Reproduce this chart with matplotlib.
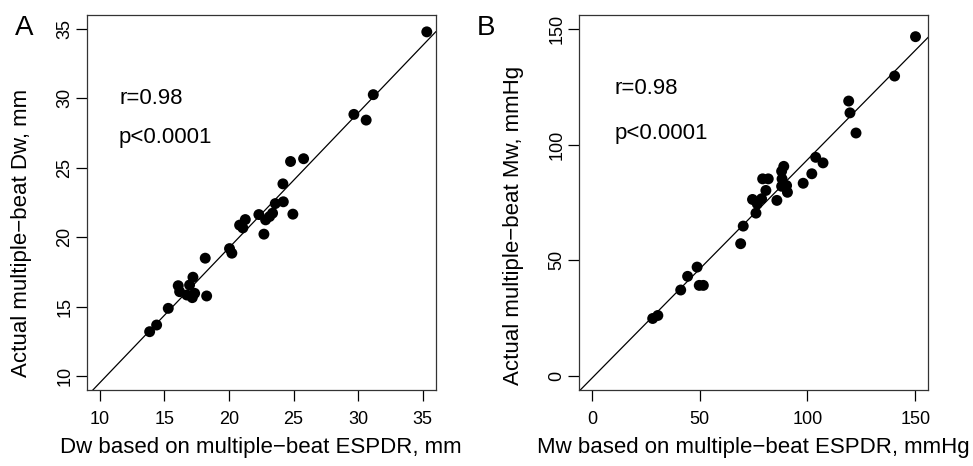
import matplotlib
matplotlib.use("Agg")
import matplotlib.pyplot as plt

plt.rcParams['font.family'] = ['Liberation Sans', 'DejaVu Sans']

# Panel A: Dw (mm)
dw_est = [35.31, 31.17, 29.67, 30.62, 24.77, 25.78, 24.18, 24.21, 23.59, 24.95,
          22.32, 23.38, 23.15, 22.84, 21.27, 20.83, 21.08, 22.71, 20.05, 20.23,
          18.17, 17.22, 16.08, 16.96, 16.19, 16.75, 17.35, 17.17, 18.28, 15.31,
          14.41, 13.87]
dw_act = [34.78, 30.26, 28.84, 28.43, 25.45, 25.65, 23.84, 22.55, 22.42, 21.66,
          21.63, 21.73, 21.49, 21.25, 21.27, 20.87, 20.67, 20.22, 19.18, 18.85,
          18.49, 17.12, 16.51, 16.56, 16.08, 15.84, 15.96, 15.65, 15.77, 14.88,
          13.68, 13.20]

# Panel B: Mw (mmHg)
mw_est = [150.1, 140.4, 119.1, 119.7, 122.5, 103.8, 107.2, 102.0, 98.0, 89.0,
          88.0, 88.2, 90.3, 88.0, 90.7, 85.8, 79.2, 81.8, 80.7, 74.5,
          78.7, 76.7, 76.1, 70.2, 69.0, 48.8, 44.4, 41.2, 49.8, 51.7,
          28.2, 30.6]
mw_act = [146.6, 129.6, 118.8, 113.7, 105.0, 94.5, 92.1, 87.4, 83.3, 90.6,
          88.5, 85.2, 82.3, 82.0, 79.4, 75.9, 85.2, 85.2, 80.2, 76.3,
          76.6, 74.4, 70.4, 64.8, 57.2, 47.1, 43.1, 37.2, 39.2, 39.2,
          24.9, 26.2]

# fitted lines (slope, intercept)
fit_a = (0.972, -0.21)
fit_b = (0.944, -0.9)

fig = plt.figure(figsize=(9.73, 4.66), dpi=100)
ax1 = fig.add_axes([0.0891, 0.163, 0.3587, 0.805])
ax2 = fig.add_axes([0.595, 0.163, 0.359, 0.805])

TICK_FS = 13
LAB_FS = 16


def panel(ax, x, y, fit, lim, ticks, xlabel, ylabel, txt_x, r_y, p_y, yl_y):
    ax.scatter(x, y, s=62, color='black', edgecolors='none', zorder=3)
    ax.axline((0, fit[1]), slope=fit[0], color='black', lw=0.9)
    ax.set_xlim(lim)
    ax.set_ylim(lim)
    ax.set_xticks(ticks)
    ax.set_yticks(ticks)
    ax.tick_params(direction='out', length=8, width=0.9, labelsize=TICK_FS)
    ax.tick_params(axis='x', pad=7)
    ax.tick_params(axis='y', pad=1.5)
    for lab in ax.get_yticklabels():
        lab.set_rotation(90)
        lab.set_va('center')
    for sp in ax.spines.values():
        sp.set_linewidth(0.9)
        sp.set_color('#333333')
    ax.set_xlabel(xlabel, fontsize=LAB_FS, va='center')
    ax.set_ylabel(ylabel, fontsize=LAB_FS, va='center')
    ax.xaxis.set_label_coords(0.5, -0.152)
    ax.yaxis.set_label_coords(-0.186, yl_y)
    ax.text(txt_x, r_y, 'r=0.98', fontsize=LAB_FS, ha='left', va='center')
    ax.text(txt_x, p_y, 'p<0.0001', fontsize=LAB_FS, ha='left', va='center')


panel(ax1, dw_est, dw_act, fit_a, (9, 36), [10, 15, 20, 25, 30, 35],
      'Dw based on multiple\u2212beat ESPDR, mm',
      'Actual multiple\u2212beat Dw, mm',
      11.5, 30.0, 27.15, 0.42)
panel(ax2, mw_est, mw_act, fit_b, (-6, 156), [0, 50, 100, 150],
      'Mw based on multiple\u2212beat ESPDR, mmHg',
      'Actual multiple\u2212beat Mw, mmHg',
      10.3, 124.3, 105.0, 0.44)

fig.text(0.0247, 0.940, 'A', fontsize=20, ha='center', va='center')
fig.text(0.4995, 0.940, 'B', fontsize=20, ha='center', va='center')

fig.savefig('out.png', dpi=100)
